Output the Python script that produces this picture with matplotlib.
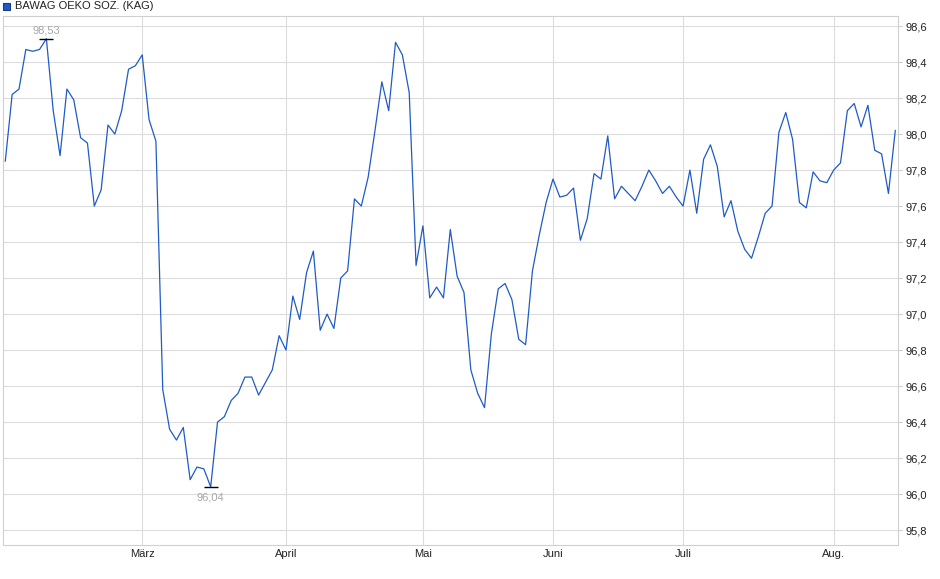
import numpy as np
import matplotlib.pyplot as plt
from matplotlib.patches import Rectangle
from matplotlib.ticker import FuncFormatter

plt.rcParams['font.family'] = ['Liberation Sans', 'DejaVu Sans']

# Daily prices (one value per trading day, Feb - mid Aug)
series_name = 'BAWAG OEKO SOZ. (KAG)'
prices = [
    97.85, 98.22, 98.25, 98.47, 98.46, 98.47, 98.53, 98.13, 97.88, 98.25,
    98.19, 97.98, 97.95, 97.60, 97.69, 98.05, 98.00, 98.13, 98.36, 98.38,
    98.44, 98.08, 97.96, 96.58, 96.36, 96.30, 96.37, 96.08, 96.15, 96.14,
    96.04, 96.40, 96.43, 96.52, 96.56, 96.65, 96.65, 96.55, 96.62, 96.69,
    96.88, 96.80, 97.10, 96.97, 97.23, 97.35, 96.91, 97.00, 96.92, 97.20,
    97.24, 97.64, 97.60, 97.76, 98.02, 98.29, 98.13, 98.51, 98.44, 98.23,
    97.27, 97.49, 97.09, 97.15, 97.09, 97.47, 97.21, 97.12, 96.69, 96.56,
    96.48, 96.89, 97.14, 97.17, 97.08, 96.86, 96.83, 97.24, 97.44, 97.62,
    97.75, 97.65, 97.66, 97.70, 97.41, 97.53, 97.78, 97.75, 97.99, 97.64,
    97.71, 97.67, 97.63, 97.71, 97.80, 97.74, 97.67, 97.71, 97.65, 97.60,
    97.80, 97.56, 97.86, 97.94, 97.82, 97.54, 97.63, 97.46, 97.36, 97.31,
    97.43, 97.56, 97.60, 98.01, 98.12, 97.97, 97.62, 97.59, 97.79, 97.74,
    97.73, 97.80, 97.84, 98.13, 98.17, 98.04, 98.16, 97.91, 97.89, 97.67,
    98.02,
]
month_labels = ['März', 'April', 'Mai', 'Juni', 'Juli', 'Aug.']
month_idx = [20, 41, 61, 80, 99, 121]
y_ticks = [95.8, 96.0, 96.2, 96.4, 96.6, 96.8, 97.0, 97.2, 97.4, 97.6,
           97.8, 98.0, 98.2, 98.4, 98.6]

line_color = '#1f5bc6'
grid_color = '#dcdcdc'

x = np.arange(len(prices))

fig = plt.figure(figsize=(9.4, 5.79), dpi=100)
ax = fig.add_axes([2.7 / 940, 34 / 579, 895.6 / 940, 529 / 579])

ax.plot(x, prices, color=line_color, lw=0.9, zorder=3)

# high / low markers
def de_fmt(v):
    return f'{v:.2f}'.replace('.', ',')

i_max = int(np.argmax(prices))
i_min = int(np.argmin(prices))
ax.plot(i_max, prices[i_max], marker='_', ms=10, mew=1.0, color='black', zorder=4)
ax.plot(i_min, prices[i_min], marker='_', ms=10, mew=1.0, color='black', zorder=4)
ax.annotate(de_fmt(prices[i_max]), (i_max, prices[i_max]), xytext=(0, 2),
            textcoords='offset points', ha='center', va='bottom',
            color='#a8a8a8', fontsize=8)
ax.annotate(de_fmt(prices[i_min]), (i_min, prices[i_min]), xytext=(0, -4),
            textcoords='offset points', ha='center', va='top',
            color='#a8a8a8', fontsize=8)

ax.set_xlim(-0.38, 130.44)
ax.set_ylim(95.717, 98.656)

ax.set_xticks(month_idx)
ax.set_xticklabels(month_labels)
ax.set_yticks(y_ticks)
ax.yaxis.tick_right()
ax.yaxis.set_major_formatter(FuncFormatter(lambda v, p: f'{v:.1f}'.replace('.', ',')))

ax.grid(True, color=grid_color, lw=0.8)
ax.set_axisbelow(True)
for s in ax.spines.values():
    s.set_color('#d0d0d0')
    s.set_linewidth(0.8)

ax.tick_params(axis='x', length=0, pad=3, labelsize=8, labelcolor='#222222')
ax.tick_params(axis='y', length=3, color='#d0d0d0', pad=2, labelsize=8,
               labelcolor='#222222')

# legend box in the top-left corner
fig.patches.append(Rectangle((3 / 940, 1 - 10 / 579), 7 / 940, 7 / 579,
                             facecolor=line_color, edgecolor='#1a3d80', lw=0.8,
                             transform=fig.transFigure, figure=fig))
fig.text(15 / 940, 1 - 6 / 579, series_name, fontsize=8, va='center',
         ha='left', color='#222222')

fig.savefig('out.png', dpi=100)
